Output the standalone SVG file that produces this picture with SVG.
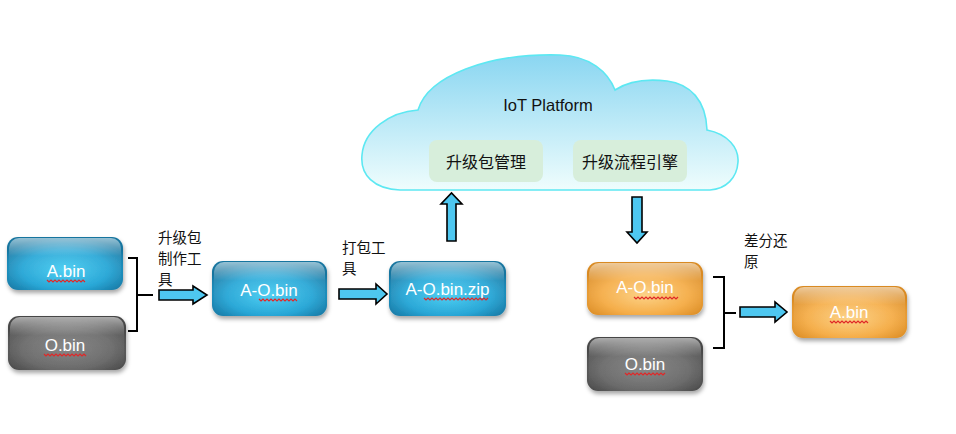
<svg xmlns="http://www.w3.org/2000/svg" width="956" height="434" viewBox="0 0 956 434">
<defs>
<radialGradient id="gBlue" cx="50%" cy="62%" r="62%">
<stop offset="0" stop-color="#47cdf2"/><stop offset="0.6" stop-color="#27a6d6"/><stop offset="1" stop-color="#16749f"/>
</radialGradient>
<radialGradient id="gGray" cx="50%" cy="62%" r="62%">
<stop offset="0" stop-color="#808080"/><stop offset="0.6" stop-color="#6a6a6a"/><stop offset="1" stop-color="#474747"/>
</radialGradient>
<radialGradient id="gOrange" cx="50%" cy="62%" r="62%">
<stop offset="0" stop-color="#fcd082"/><stop offset="0.6" stop-color="#f5ad48"/><stop offset="1" stop-color="#d98a22"/>
</radialGradient>
<linearGradient id="gGloss" x1="0" y1="0" x2="0" y2="1">
<stop offset="0" stop-color="#ffffff" stop-opacity="0.55"/><stop offset="0.35" stop-color="#ffffff" stop-opacity="0.08"/><stop offset="1" stop-color="#ffffff" stop-opacity="0"/>
</linearGradient>
<linearGradient id="gCloud" x1="0" y1="0" x2="0" y2="1">
<stop offset="0" stop-color="#8ad6f1"/><stop offset="1" stop-color="#effdfd"/>
</linearGradient>
<filter id="sh" x="-10%" y="-10%" width="125%" height="140%">
<feDropShadow dx="1" dy="3" stdDeviation="2" flood-color="#000" flood-opacity="0.35"/>
</filter>
<style>
.box{stroke:none;filter:url(#sh)}
.gloss{fill:url(#gGloss)}
.lbl{font-family:"Liberation Sans",Arial,sans-serif;font-size:17px;fill:#ffffff;text-anchor:middle}
.cn{font-family:"Noto Sans CJK SC","Liberation Sans",sans-serif;font-size:16px;fill:#111111}
.cs{font-family:"Noto Sans CJK SC","Liberation Sans",sans-serif;font-size:14.5px;fill:#111111}
.arr{fill:#4ec7f0;stroke:#000;stroke-width:1.6;stroke-linejoin:miter}
.br{fill:none;stroke:#000;stroke-width:2}
.sq{fill:none;stroke:#e02828;stroke-width:1.2}
.inner{fill:#d7eedb}
</style>
</defs>
<rect width="956" height="434" fill="#ffffff"/>

<g id="cloud">
<path d="M400,190 C374,189 360,175 362,155 C364,130 390,112 418,110 C428,76 488,53 560,55 C590,56 608,72 615,90 C630,80 650,79 667,81 C690,84 706,100 707,130 C728,134 739,148 738,162 C737,178 726,189 710,190 Z" fill="url(#gCloud)" stroke="#5de8f2" stroke-width="1.6"/>
<text x="548" y="111" font-family="'Liberation Sans',Arial,sans-serif" font-size="16.5" fill="#111" text-anchor="middle">IoT Platform</text>
</g>
<g id="pkgmgr">
<rect class="inner" x="429" y="140" width="114" height="42" rx="8"/>
<text class="cn" x="486" y="168" text-anchor="middle">升级包管理</text>
</g>
<g id="flowengine">
<rect class="inner" x="573" y="140" width="114" height="42" rx="8"/>
<text class="cn" x="630" y="168" text-anchor="middle">升级流程引擎</text>
</g>

<g id="a-bin-src">
<rect class="box" x="7" y="237" width="116" height="53" rx="11" fill="url(#gBlue)"/>
<rect class="gloss" x="9" y="238" width="112" height="51" rx="10"/>
<text class="lbl" x="66" y="277">A.bin</text>
<path class="sq" d="M47,280 l2,2 2,-2 2,2 2,-2 2,2 2,-2 2,2 2,-2 2,2 2,-2 2,2 2,-2 2,2 2,-2 2,2 2,-2 2,2 2,-2 2,2"/>
</g>
<g id="o-bin-src">
<rect class="box" x="8" y="316" width="118" height="54" rx="11" fill="url(#gGray)"/>
<rect class="gloss" x="10" y="317" width="114" height="52" rx="10"/>
<text class="lbl" x="65" y="351">O.bin</text>
<path class="sq" d="M44,354 l2,2 2,-2 2,2 2,-2 2,2 2,-2 2,2 2,-2 2,2 2,-2 2,2 2,-2 2,2 2,-2 2,2 2,-2 2,2 2,-2 2,2 2,-2 2,2"/>
</g>
<g id="ao-bin">
<rect class="box" x="212" y="261" width="115" height="55" rx="11" fill="url(#gBlue)"/>
<rect class="gloss" x="214" y="262" width="111" height="53" rx="10"/>
<text class="lbl" x="269" y="296">A-O.bin</text>
<path class="sq" d="M259,299 l2,2 2,-2 2,2 2,-2 2,2 2,-2 2,2 2,-2 2,2 2,-2 2,2 2,-2 2,2 2,-2 2,2 2,-2 2,2 2,-2 2,2"/>
</g>
<g id="ao-zip">
<rect class="box" x="389" y="261" width="117" height="55" rx="11" fill="url(#gBlue)"/>
<rect class="gloss" x="391" y="262" width="113" height="53" rx="10"/>
<text class="lbl" x="447.5" y="295">A-O.bin.zip</text>
<path class="sq" d="M424,298 l2,2 2,-2 2,2 2,-2 2,2 2,-2 2,2 2,-2 2,2 2,-2 2,2 2,-2 2,2 2,-2 2,2 2,-2 2,2 2,-2 2,2 2,-2 2,2 2,-2 2,2 2,-2 2,2 2,-2 2,2 2,-2 2,2 2,-2 2,2 2,-2"/>
</g>
<g id="ao-bin-dl">
<rect class="box" x="587" y="262" width="116" height="53" rx="11" fill="url(#gOrange)"/>
<rect class="gloss" x="589" y="263" width="112" height="51" rx="10"/>
<text class="lbl" x="645" y="293">A-O.bin</text>
<path class="sq" d="M634,297 l2,2 2,-2 2,2 2,-2 2,2 2,-2 2,2 2,-2 2,2 2,-2 2,2 2,-2 2,2 2,-2 2,2 2,-2 2,2 2,-2 2,2 2,-2 2,2 2,-2"/>
</g>
<g id="o-bin-dev">
<rect class="box" x="587" y="337" width="116" height="54" rx="11" fill="url(#gGray)"/>
<rect class="gloss" x="589" y="338" width="112" height="52" rx="10"/>
<text class="lbl" x="645" y="370">O.bin</text>
<path class="sq" d="M625,373 l2,2 2,-2 2,2 2,-2 2,2 2,-2 2,2 2,-2 2,2 2,-2 2,2 2,-2 2,2 2,-2 2,2 2,-2 2,2 2,-2 2,2 2,-2"/>
</g>
<g id="a-bin-out">
<rect class="box" x="792" y="286" width="115" height="52" rx="11" fill="url(#gOrange)"/>
<rect class="gloss" x="794" y="287" width="111" height="50" rx="10"/>
<text class="lbl" x="849" y="318">A.bin</text>
<path class="sq" d="M830,321 l2,2 2,-2 2,2 2,-2 2,2 2,-2 2,2 2,-2 2,2 2,-2 2,2 2,-2 2,2 2,-2 2,2 2,-2 2,2 2,-2 2,2"/>
</g>

<g id="connectors">
<path class="br" d="M128,258 H137 V331 H128 M137,295 H153"/>
<path class="arr" d="M159,290 H193 V286 L207,295 L193,304 V300 H159 Z"/>
<path class="arr" d="M339,289 H376 V284 L387,294 L376,304 V299 H339 Z"/>
<path class="arr" d="M447,241 V204 H441 L451.5,193 L462,204 H456 V241 Z"/>
<path class="arr" d="M632,197 H642 V232 H647 L637,243 L627,232 H632 Z"/>
<path class="br" d="M713,277 H724 V348 H713 M724,313 H736"/>
<path class="arr" d="M740,307 H775 V302 L787,312 L775,322 V317 H740 Z"/>
</g>

<g id="labels">
<text class="cs" x="158" y="243">升级包</text>
<text class="cs" x="158" y="264">制作工</text>
<text class="cs" x="158" y="285">具</text>
<text class="cs" x="342" y="253">打包工</text>
<text class="cs" x="342" y="274">具</text>
<text class="cs" x="744" y="246">差分还</text>
<text class="cs" x="744" y="267">原</text>
</g>
</svg>
